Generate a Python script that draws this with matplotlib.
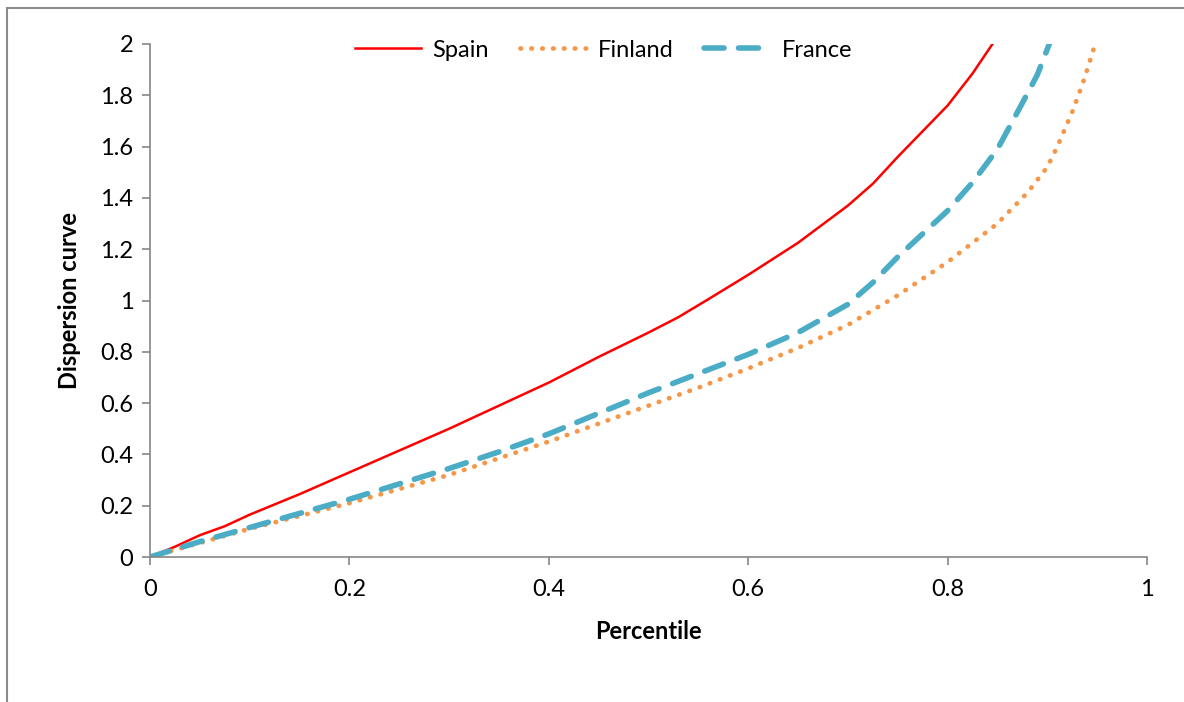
import matplotlib
matplotlib.use("Agg")
import matplotlib.pyplot as plt
from matplotlib.patches import Rectangle

plt.rcParams['font.family'] = ['Lato', 'DejaVu Sans']

# percentile grid and dispersion curve per country
spain_x = [0, 0.025, 0.05, 0.075, 0.1, 0.15, 0.2, 0.25, 0.3, 0.35, 0.4, 0.45,
           0.5, 0.53, 0.56, 0.6, 0.65, 0.7, 0.725, 0.75, 0.775, 0.8, 0.825,
           0.845]
spain_y = [0, 0.04, 0.085, 0.12, 0.165, 0.245, 0.33, 0.415, 0.50, 0.59, 0.68,
           0.78, 0.875, 0.935, 1.005, 1.10, 1.225, 1.37, 1.455, 1.56, 1.66,
           1.76, 1.885, 2.0]

finland_x = [0, 0.05, 0.1, 0.15, 0.2, 0.25, 0.3, 0.35, 0.4, 0.45, 0.5, 0.55,
             0.6, 0.65, 0.7, 0.75, 0.8, 0.85, 0.88, 0.9, 0.91, 0.925, 0.935,
             0.94, 0.948]
finland_y = [0, 0.055, 0.11, 0.16, 0.21, 0.265, 0.32, 0.385, 0.45, 0.52, 0.59,
             0.66, 0.735, 0.815, 0.905, 1.02, 1.15, 1.30, 1.42, 1.52, 1.60,
             1.735, 1.84, 1.90, 2.0]

france_x = [0, 0.05, 0.1, 0.15, 0.2, 0.25, 0.3, 0.35, 0.4, 0.45, 0.5, 0.55,
            0.6, 0.65, 0.7, 0.725, 0.75, 0.8, 0.825, 0.85, 0.875, 0.89, 0.902]
france_y = [0, 0.06, 0.115, 0.17, 0.225, 0.285, 0.345, 0.41, 0.48, 0.56, 0.64,
            0.715, 0.79, 0.875, 0.985, 1.07, 1.17, 1.35, 1.46, 1.59, 1.77,
            1.88, 2.0]

x_ticks = [0, 0.2, 0.4, 0.6, 0.8, 1]
y_ticks = [0, 0.2, 0.4, 0.6, 0.8, 1, 1.2, 1.4, 1.6, 1.8, 2]

FS = 17
W, H = 1184, 702
fig = plt.figure(figsize=(W / 100, H / 100), dpi=100)
ax = fig.add_axes([150 / W, 1 - 557 / H, 997 / W, 513 / H])

# outer chart frame (only top and left edges fall inside the image)
fig.patches.append(Rectangle((7 / W, -0.1), 1.2, 1 - 8 / H + 0.1,
                             transform=fig.transFigure, fill=False,
                             edgecolor='#8c8c8c', linewidth=1.5))

ax.plot(spain_x, spain_y, color='#ff0000', linewidth=1.8, label='Spain')
ax.plot(finland_x, finland_y, color='#f79646', linewidth=3.4,
        linestyle=(0, (0.1, 2.2)), dash_capstyle='round', label='Finland')
ax.plot(france_x, france_y, color='#4bacc6', linewidth=4.0,
        linestyle=(0, (3.6, 2.6)), dash_capstyle='round', label='France')

ax.set_xlim(0, 1)
ax.set_ylim(0, 2)
ax.set_xticks(x_ticks)
ax.set_yticks(y_ticks)
ax.set_xticklabels([f'{v:g}' for v in x_ticks])
ax.set_yticklabels([f'{v:g}' for v in y_ticks])

for side in ('top', 'right'):
    ax.spines[side].set_visible(False)
for side in ('left', 'bottom'):
    ax.spines[side].set_color('#868686')
    ax.spines[side].set_linewidth(1.2)
ax.tick_params(direction='out', length=6, width=1.2, color='#868686',
               labelsize=FS, pad=6)
ax.tick_params(axis='x', pad=10)

ax.set_xlabel('Percentile', fontsize=FS, fontweight='bold', labelpad=14)
ax.set_ylabel('Dispersion curve', fontsize=FS, fontweight='bold', labelpad=14)

ax.legend(loc='upper center', bbox_to_anchor=(0.455, 1.05), ncol=3,
          frameon=False, fontsize=FS, handlelength=2.8, columnspacing=1.3,
          handletextpad=0.5)

fig.savefig('out.png', dpi=100)
